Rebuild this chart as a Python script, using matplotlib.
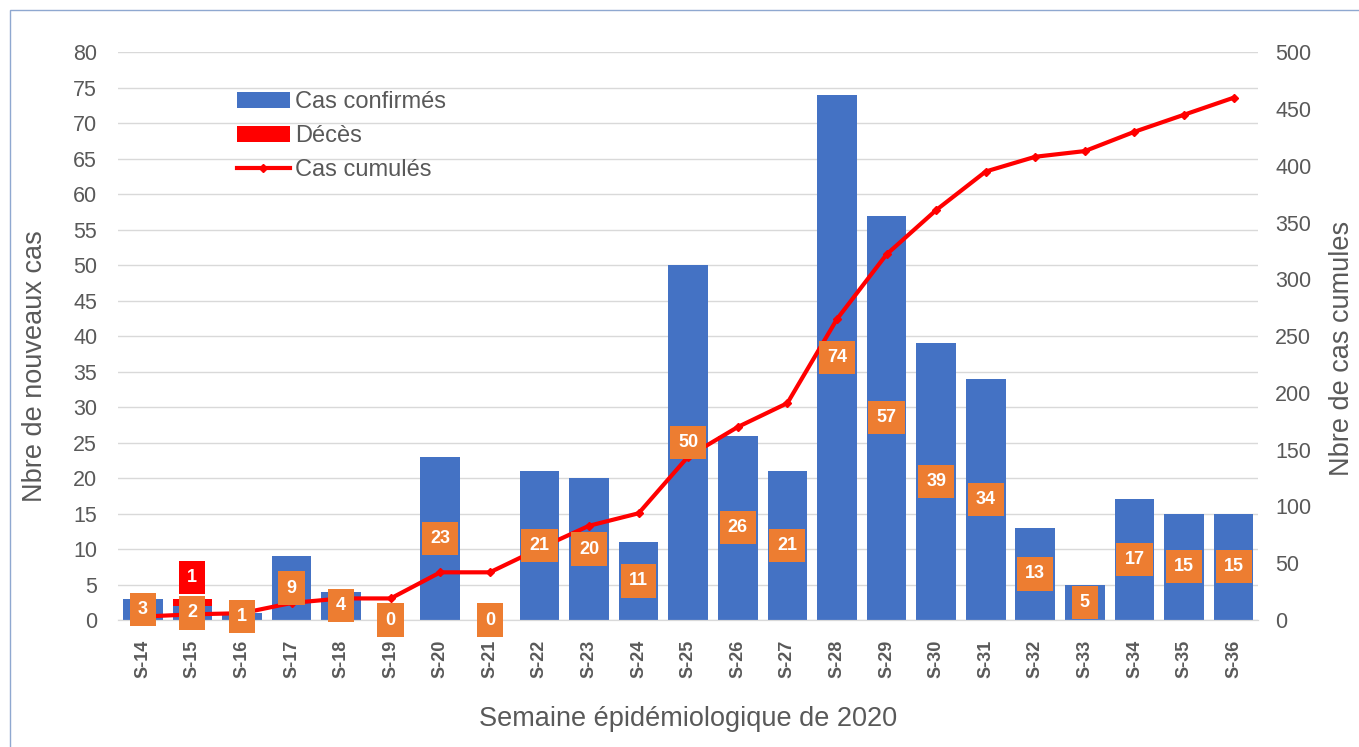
import numpy as np
import matplotlib.pyplot as plt
from matplotlib.patches import Rectangle

plt.rcParams['font.family'] = ['Liberation Sans', 'DejaVu Sans']

# Data
semaines = ['S-14', 'S-15', 'S-16', 'S-17', 'S-18', 'S-19', 'S-20', 'S-21', 'S-22',
            'S-23', 'S-24', 'S-25', 'S-26', 'S-27', 'S-28', 'S-29', 'S-30', 'S-31',
            'S-32', 'S-33', 'S-34', 'S-35', 'S-36']
cas_confirmes = [3, 2, 1, 9, 4, 0, 23, 0, 21, 20, 11, 50, 26, 21, 74, 57, 39, 34,
                 13, 5, 17, 15, 15]
deces = [0, 1, 0, 0, 0, 0, 0, 0, 0, 0, 0, 0, 0, 0, 0, 0, 0, 0, 0, 0, 0, 0, 0]
cas_cumules = [3, 5, 6, 15, 19, 19, 42, 42, 63, 83, 94, 144, 170, 191, 265, 322,
               361, 395, 408, 413, 430, 445, 460]

blue = '#4472C4'
red = '#FF0000'
orange = '#ED7D31'
grey_txt = '#595959'

fig = plt.figure(figsize=(13.59, 7.47), dpi=100)
ax = fig.add_axes([0.0868, 0.170, 0.8392, 0.760])
ax2 = ax.twinx()

x = np.arange(len(semaines))
h1 = ax.bar(x, cas_confirmes, width=0.8, color=blue, zorder=2)
h2 = ax.bar(x, deces, width=0.8, bottom=cas_confirmes, color=red, zorder=2)

# Cumulative line on the right axis
h3, = ax2.plot(x, cas_cumules, color=red, lw=3, marker='D', markersize=4, zorder=3)

# Orange value labels in the middle of the bars
for xi, v in zip(x, cas_confirmes):
    ax2.text(xi, v / 2 * 500 / 80, str(v), ha='center', va='center', color='white',
             fontsize=13, fontweight='bold', zorder=5,
             bbox=dict(boxstyle='square,pad=0.45', fc=orange, ec='none'))

# Red label for deaths, just above the stacked bar
for xi, c, d in zip(x, cas_confirmes, deces):
    if d > 0:
        ax2.text(xi, (c + d + 3.0) * 500 / 80, str(d), ha='center', va='center',
                 color='white', fontsize=13, fontweight='bold', zorder=5,
                 bbox=dict(boxstyle='square,pad=0.45', fc=red, ec='none'))

ax.set_xlim(-0.5, len(semaines) - 0.5)
ax.set_ylim(0, 80)
ax.set_yticks(np.arange(0, 81, 5))
ax2.set_ylim(0, 500)
ax2.set_yticks(np.arange(0, 501, 50))

ax.set_xticks(x)
ax.set_xticklabels(semaines, rotation=90, fontweight='bold', fontsize=13, color=grey_txt)
ax.tick_params(axis='y', labelsize=15.5, labelcolor=grey_txt, length=0, pad=15)
ax2.tick_params(axis='y', labelsize=15.5, labelcolor=grey_txt, length=0, pad=12)
ax.tick_params(axis='x', length=0, pad=14)

ax.grid(axis='y', color='#D9D9D9', lw=1, zorder=0)
ax.set_axisbelow(True)
for a in (ax, ax2):
    for s in ['top', 'left', 'right']:
        a.spines[s].set_visible(False)
    a.spines['bottom'].set_color('#D9D9D9')

ax.set_ylabel('Nbre de nouveaux cas', fontsize=19.5, color=grey_txt, labelpad=18)
ax2.set_ylabel('Nbre de cas cumules', fontsize=19.5, color=grey_txt, labelpad=13)
ax.yaxis.label.set_y(0.447)
ax2.yaxis.label.set_y(0.479)
ax.set_xlabel('Semaine épidémiologique de 2020', fontsize=19.5, color=grey_txt, labelpad=20)

ax.legend([h1, h2, h3], ['Cas confirmés', 'Décès', 'Cas cumulés'],
          loc='upper left', bbox_to_anchor=(0.096, 0.948), frameon=False,
          fontsize=17, labelcolor=grey_txt, handlelength=2.25, handletextpad=0.2,
          labelspacing=0.5, borderaxespad=0)

# Thin frame around the figure
fig.patches.append(Rectangle((0.007, -0.01), 1.0, 0.997, transform=fig.transFigure,
                             fill=False, ec='#8FA8D0', lw=1))

fig.savefig('out.png', dpi=100)
